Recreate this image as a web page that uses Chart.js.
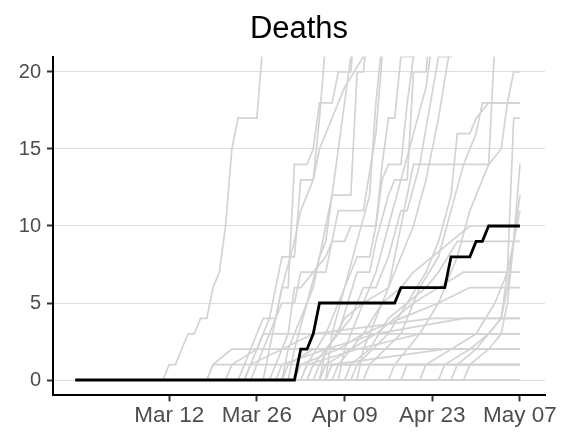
<!DOCTYPE html>
<html>
<head>
<meta charset="utf-8">
<script src="https://cdn.jsdelivr.net/npm/chart.js@4"></script>
<style>
  html, body { margin: 0; padding: 0; background: #fff; }
  #deaths-chart { display: block; }
</style>
</head>
<body>
<canvas id="deaths-chart" width="572" height="437"></canvas>
<script>
// ── Data ──────────────────────────────────────────────────────
// x = days since Feb 26, y = cumulative deaths; each entry is [day, deaths]
const X_TICKS  = [15, 29, 43, 57, 71];
const X_LABELS = ['Mar 12', 'Mar 26', 'Apr 09', 'Apr 23', 'May 07'];
const Y_TICKS  = [0, 5, 10, 15, 20];

const highlight = [[0,0],[35,0],[36,2],[37,2],[38,3],[39,5],[51,5],[52,6],[59,6],[60,8],[63,8],[64,9],[65,9],[66,10],[71,10]];

const others = [
  [[0,0],[14,0],[15,1],[16,1],[17,2],[18,3],[19,3],[20,4],[21,4],[22,6],[23,7],[24,10],[25,15],[26,17],[29,17],[30,22],[31,26],[35,40],[71,120]],
  [[0,0],[27,0],[28,1],[29,2],[30,3],[31,4],[32,6],[33,8],[35,8],[36,13],[38,13],[39,17],[40,22],[45,40],[71,90]],
  [[0,0],[28,0],[29,1],[30,2],[31,3],[32,4],[33,6],[34,6],[35,14],[37,14],[38,15],[39,18],[41,18],[42,20],[44,20],[45,25],[50,40],[71,80]],
  [[0,0],[30,0],[31,2],[32,4],[33,5],[35,5],[36,7],[40,7],[41,9],[42,11],[46,11],[48,16],[49,21],[50,24],[71,70]],
  [[0,0],[31,0],[32,1],[34,3],[35,6],[36,6],[40,8],[41,9],[43,9],[44,10],[48,10],[49,13],[50,14],[52,14],[53,18],[54,21],[55,25],[71,60]],
  [[0,0],[33,0],[34,2],[36,4],[38,6],[39,8],[40,10],[41,12],[44,12],[45,20],[46,20],[47,24],[71,70]],
  [[0,0],[36,0],[37,1],[40,3],[42,5],[44,7],[45,8],[47,8],[48,10],[49,14],[50,17],[51,17],[52,21],[54,21],[55,26],[71,50]],
  [[0,0],[37,0],[38,1],[42,3],[45,7],[47,7],[48,9],[50,12],[51,13],[53,13],[54,20],[56,20],[57,24],[71,45]],
  [[0,0],[39,0],[40,2],[44,4],[46,6],[48,6],[50,8],[52,11],[53,11],[55,14],[58,21],[60,21],[61,26],[71,40]],
  [[0,0],[38,0],[39,1],[43,4],[46,5],[50,6],[51,8],[53,12],[54,14],[66,14],[67,22],[71,30]],
  [[0,0],[44,0],[45,1],[50,3],[53,5],[56,7],[58,9],[60,12],[61,16],[63,16],[64,17],[66,18],[71,18]],
  [[0,0],[46,0],[47,1],[52,3],[55,6],[58,8],[60,11],[62,14],[64,16],[65,18],[71,18]],
  [[0,0],[50,0],[51,1],[55,3],[58,5],[61,8],[63,11],[65,13],[66,14],[68,15],[69,18],[70,20],[71,20]],
  [[0,0],[60,0],[61,1],[64,2],[66,3],[68,4],[69,7],[70,17],[71,17]],
  [[0,0],[62,0],[63,1],[66,2],[68,3],[69,5],[70,9],[71,14]],
  [[0,0],[58,0],[59,1],[63,2],[66,3],[68,4],[69,6],[70,9],[71,12]],
  [[0,0],[55,0],[56,1],[60,2],[64,3],[67,5],[69,7],[70,9],[71,11]],
  [[0,0],[34,0],[35,2],[37,5],[39,8],[40,9],[41,12],[42,15],[43,18],[44,21],[45,28],[71,90]],
  [[0,0],[40,0],[41,3],[43,6],[45,9],[47,12],[48,18],[49,22],[71,60]],
  [[0,0],[42,0],[43,2],[46,5],[48,7],[50,10],[52,13],[54,16],[56,19],[57,22],[71,45]],
  [[0,0],[45,0],[46,2],[49,5],[52,8],[54,10],[56,13],[58,17],[60,22],[71,35]],
  [[0,0],[26,0],[27,1],[28,2],[29,3],[30,4],[32,4],[33,6],[35,9],[36,11],[38,13],[39,15],[41,17],[43,19],[46,21],[48,26],[71,60]],
  [[0,0],[41,0],[42,1],[46,3],[49,5],[52,6],[54,7],[57,8],[60,9],[63,10],[71,10]],
  [[0,0],[43,0],[44,1],[47,2],[50,4],[53,5],[56,6],[58,7],[61,9],[71,9]],
  [[0,0],[39,0],[40,1],[44,2],[48,3],[51,4],[54,5],[58,6],[62,7],[71,7]],
  [[0,0],[35,0],[36,1],[42,2],[46,3],[52,4],[58,5],[63,6],[71,6]],
  [[0,0],[27,0],[28,1],[33,2],[38,3],[57,4],[71,4]],
  [[0,0],[32,0],[33,1],[40,2],[48,3],[62,4],[71,4]],
  [[0,0],[24,0],[25,1],[29,2],[30,3],[71,3]],
  [[0,0],[36,0],[37,1],[45,2],[55,3],[71,3]],
  [[0,0],[21,0],[22,1],[25,2],[71,2]],
  [[0,0],[33,0],[34,1],[38,2],[71,2]],
  [[0,0],[40,0],[41,1],[59,2],[71,2]],
  [[0,0],[35,0],[36,2],[71,2]],
  [[0,0],[21,0],[22,1],[71,1]],
  [[0,0],[37,0],[38,1],[71,1]],
  [[0,0],[52,0],[53,1],[71,1]],
  [[0,0],[71,0]],
  [[0,0],[71,0]],
];

// ── Style ─────────────────────────────────────────────────────
const FONT     = "'Liberation Sans', Arial, sans-serif";
const TXT_CLR  = '#4d4d4d';
const GREY_CLR = '#d3d3d3';
const GRID_CLR = '#dedede';

// ── Chart ─────────────────────────────────────────────────────
const datasets = others.map(d => ({
    data: d, borderColor: GREY_CLR, borderWidth: 1.7,
    pointRadius: 0, fill: false, clip: 0, order: 1,
}));
datasets.push({
    data: highlight, borderColor: '#000', borderWidth: 2.8,
    pointRadius: 0, fill: false, clip: 0, order: 0,
});

new Chart(document.getElementById('deaths-chart'), {
    type: 'line',
    data: { datasets },
    options: {
        responsive: false, animation: false,
        layout: { padding: { left: 0, right: 27, top: 0, bottom: 0 } },
        plugins: {
            legend: { display: false },
            tooltip: { enabled: false },
            title: {
                display: true, text: 'Deaths', color: '#000', fullSize: false,
                font: { family: FONT, size: 31, weight: 'normal' },
                padding: { top: 11, bottom: 8.4 },
            },
        },
        scales: {
            x: {
                type: 'linear', min: -3.55, max: 75,
                afterBuildTicks: axis => { axis.ticks = X_TICKS.map(v => ({ value: v })); },
                afterFit: axis => { axis.height = 41.6; },
                ticks: {
                    autoSkip: false, maxRotation: 0, padding: 1,
                    color: TXT_CLR, font: { family: FONT, size: 22.5 },
                    callback: (v, i) => X_LABELS[i],
                },
                grid: { drawOnChartArea: false, drawTicks: true, tickLength: 6, tickColor: '#333', tickWidth: 2 },
                border: { display: true, color: '#000', width: 2 },
            },
            y: {
                type: 'linear', min: -1, max: 21,
                afterBuildTicks: axis => { axis.ticks = Y_TICKS.map(v => ({ value: v })); },
                afterFit: axis => { axis.width = 53; },
                ticks: {
                    padding: 6, color: TXT_CLR, font: { family: FONT, size: 20 },
                },
                grid: { color: GRID_CLR, lineWidth: 1, drawTicks: true, tickLength: 6, tickColor: '#333', tickWidth: 2 },
                border: { display: true, color: '#000', width: 2 },
            },
        },
    },
});
</script>
</body>
</html>
